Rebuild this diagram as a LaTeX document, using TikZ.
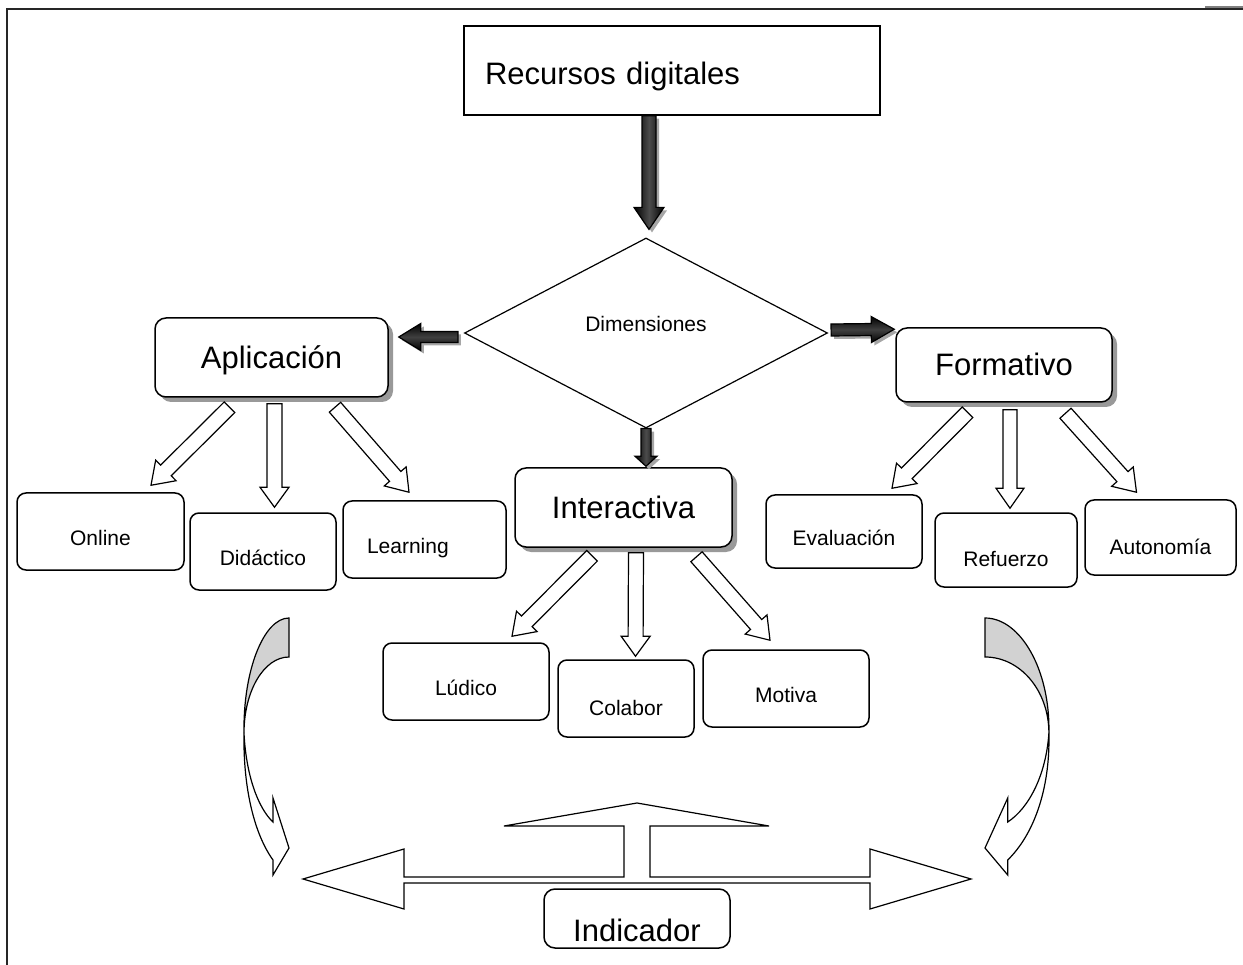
\documentclass[tikz,border=0pt]{standalone}
\usepackage{fontspec}
\setmainfont{Liberation Sans}
\usetikzlibrary{calc,shapes.geometric,shadows}
% block arrow: [style]{from}{to}{half shaft}{half head}{head length}
\newcommand{\blkarrow}[6][]{%
  \coordinate (ba-s) at (#2);
  \coordinate (ba-e) at (#3);
  \coordinate (ba-h) at ($(ba-e)!#6!(ba-s)$);
  \draw[#1] ($(ba-s)!#4!90:(ba-e)$) -- ($(ba-h)!#4!90:(ba-e)$) -- ($(ba-h)!#5!90:(ba-e)$) -- (ba-e)
    -- ($(ba-h)!#5!-90:(ba-e)$) -- ($(ba-h)!#4!-90:(ba-e)$) -- ($(ba-s)!#4!-90:(ba-e)$) -- cycle;}
\newcommand{\bendarrow}{%
  \filldraw[fill=gray!35, line width=1.2pt] (0,0) .. controls (-25,0) and (-46,52) .. (-45,115) .. controls (-45,73) and (-25,39) .. (0,39) -- cycle;
  \filldraw[fill=white, line width=1.2pt] (-45,115) .. controls (-43,157) and (-31,190) .. (-16,204) -- (-16,180) -- (0,230) -- (-16,257) -- (-16,242) .. controls (-34,217) and (-46,172) .. (-45,115) -- cycle;}

\begin{document}
\begin{tikzpicture}[x=1pt,y=-1pt,
  framebox/.style={draw, rounded corners=11pt, line width=1.5pt, fill=white, inner sep=0pt, font=\fontsize{31}{37}\selectfont, text height=22pt, text depth=0pt},
  bigbox/.style={framebox, drop shadow={shadow xshift=5pt, shadow yshift=-5pt, fill=gray!80, opacity=1}},
  smallbox/.style={draw, rounded corners=9pt, line width=1.5pt, inner sep=0pt, font=\fontsize{21}{25}\selectfont, text height=27pt, text depth=0pt},
  darkv/.style={draw=black, line width=1.2pt, left color=black, right color=black, middle color=black!70, drop shadow={shadow xshift=3pt, shadow yshift=-3pt, fill=gray!70, opacity=1}},
  darkh/.style={draw=black, line width=1.2pt, top color=black, bottom color=black, middle color=black!75, drop shadow={shadow xshift=3pt, shadow yshift=-3pt, fill=gray!70, opacity=1}},
  hollow/.style={draw, fill=white, line width=1.2pt}]
\useasboundingbox (0,0) rectangle (1243,965);
\draw[line width=2pt, black!85] (7,965) -- (7,9) -- (1243,9);
\draw[line width=2pt, gray] (1205,7) -- (1243,7);

\node[draw, line width=1.5pt, inner xsep=21pt, inner ysep=0pt, minimum width=416pt, minimum height=89pt, text width=374pt, align=left, font=\fontsize{31}{37}\selectfont, text height=29pt, text depth=0pt] (rec) at (672,70.5) {Recursos digitales};
\node[diamond, draw, line width=1.2pt, inner sep=0pt, minimum width=363pt, minimum height=190pt, font=\fontsize{21}{25}\selectfont, text height=14pt, text depth=16pt] (dim) at (646,333) {Dimensiones};
\node[bigbox, minimum width=233pt, minimum height=79pt] (apl) at (271.5,357.5) {Aplicación};
\node[bigbox, minimum width=216pt, minimum height=74pt] (form) at (1004,365) {Formativo};
\node[bigbox, minimum width=217pt, minimum height=79pt] (inter) at (623.5,507.5) {Interactiva};
\node[framebox, minimum width=186pt, minimum height=59pt, text height=45pt] (ind) at (637,918.5) {Indicador};

\node[smallbox, minimum width=167pt, minimum height=77pt] (onl) at (100.5,531.5) {Online};
\node[smallbox, minimum width=146pt, minimum height=77pt] (did) at (263,551.5) {Didáctico};
\node[smallbox, minimum width=163pt, minimum height=77pt, text width=115pt, inner xsep=24pt, align=left] (lea) at (424.5,539.5) {Learning};
\node[smallbox, minimum width=166pt, minimum height=77pt] (lud) at (466,681.5) {Lúdico};
\node[smallbox, minimum width=136pt, minimum height=77pt, text height=33pt] (col) at (626,698.5) {Colabor};
\node[smallbox, minimum width=166pt, minimum height=77pt] (mot) at (786,688.5) {Motiva};
\node[smallbox, minimum width=156pt, minimum height=73pt] (eva) at (844,531.5) {Evaluación};
\node[smallbox, minimum width=142pt, minimum height=74pt, text height=33pt] (ref) at (1006,550) {Refuerzo};
\node[smallbox, minimum width=151pt, minimum height=75pt, text height=33pt] (aut) at (1160.5,537.5) {Autonomía};

%dark arrows
\blkarrow[darkv]{$(rec.south -| dim.north)+(3,0)$}{$(dim.north)+(3,-8)$}{7pt}{15pt}{22pt}
\blkarrow[darkh]{$(dim.west)+(-6,4)$}{$(apl.east)+(10,-20.5)$}{5.5pt}{13.5pt}{22pt}
\blkarrow[darkh]{$(dim.east)+(3,-3)$}{$(form.north west)+(-1,2)$}{6pt}{13pt}{23pt}
\blkarrow[darkv]{dim.south}{$(dim.south |- inter.north)+(0,-1)$}{5pt}{11pt}{10pt}
%white arrows
\blkarrow[hollow]{$(apl.south)+(-42,9.5)$}{$(onl.north)+(50.5,-7)$}{7.5pt}{14.5pt}{21pt}
\blkarrow[hollow]{$(apl.south)+(3,6)$}{$(did.north)+(11.5,-5)$}{7.5pt}{14.5pt}{20pt}
\blkarrow[hollow]{$(apl.south)+(63.5,9.5)$}{$(lea.north)+(-15.5,-8)$}{7.5pt}{14.5pt}{21pt}
\blkarrow[hollow]{$(inter.south)+(-31.5,8)$}{$(lud.north)+(46,-6)$}{7.5pt}{14.5pt}{21pt}
\blkarrow[hollow]{$(inter.south)+(12.5,5)$}{$(col.north)+(9.5,-3)$}{7.5pt}{14.5pt}{20pt}
\blkarrow[hollow]{$(inter.south)+(73,9)$}{$(mot.north)+(-16,-9)$}{7.5pt}{14.5pt}{21pt}
\blkarrow[hollow]{$(form.south)+(-36.5,9.5)$}{$(eva.north)+(48,-6)$}{7.5pt}{14.5pt}{21pt}
\blkarrow[hollow]{$(form.south)+(6,7)$}{$(ref.north)+(4,-4)$}{7pt}{14pt}{20pt}
\blkarrow[hollow]{$(form.south)+(61.5,10.5)$}{$(aut.north)+(-24,-7)$}{7.5pt}{14.5pt}{21pt}

%curved arrows
\begin{scope}[shift={(289,618)}]
\bendarrow
\end{scope}
\begin{scope}[shift={(985,618)},xscale=-1.42]
\bendarrow
\end{scope}
%three-way arrow
\draw[hollow] (637,803) -- (769,826) -- (650,826) -- (650,877) -- (870,877) -- (870,849) -- (971,879) -- (870,909) -- (870,883)
  -- (404,883) -- (404,909) -- (303,879) -- (404,849) -- (404,877) -- (624,877) -- (624,826) -- (504,826) -- cycle;
\end{tikzpicture}
\end{document}
